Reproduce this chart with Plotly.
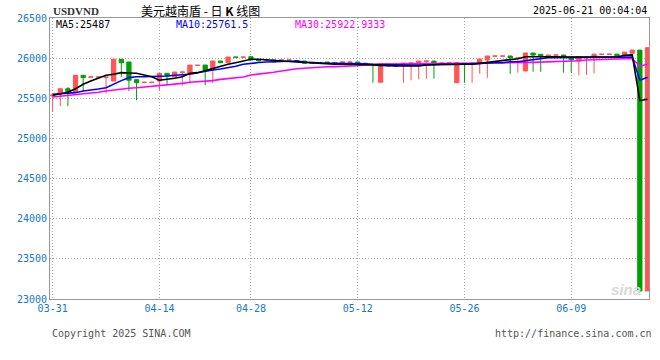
import plotly.graph_objects as go

dates = ["03-31",
 "04-01","04-02","04-03","04-04","04-05","04-06","04-07","04-08","04-09","04-10",
 "04-11","04-12","04-13","04-14","04-15","04-16","04-17","04-19","04-20","04-22",
 "04-23","04-24","04-25","04-26","04-27","04-28","04-29","04-30",
 "05-01","05-02","05-03","05-04","05-05","05-06","05-07","05-08","05-09","05-10",
 "05-11","05-12","05-13","05-14","05-15","05-16","05-17","05-18","05-19","05-20",
 "05-21","05-22","05-23","05-24","05-25","05-26","05-27","05-28","05-29","05-30",
 "05-31","06-01","06-02","06-03","06-04","06-05","06-06","06-07","06-08","06-09",
 "06-10","06-11","06-12","06-13","06-14","06-15","06-16","06-17","06-18","06-19"]

opens = [25530,25553,25619,25582,25786,25762,25762,25760,25715,25986,
         25952,25732,25696,25696,25715,25811,25765,25823,25811,25908,
         25914,25861,25964,25943,26014,26010,26018,25977,25973,25977,
         25973,25973,25970,25964,25936,25938,25952,25939,25948,25948,
         25952,25936,25923,25700,25904,25907,25931,25936,25943,25961,
         25964,25935,25936,25694,25936,25933,25930,25977,26024,26024,
         26027,25995,25840,26064,26048,26018,26036,26039,26010,25964,
         26006,26020,26046,26046,26050,26030,26060,26100,23100]
highs = [25545,25619,25641,25786,25786,25766,25766,25764,25986,25986,
         25952,25740,25700,25700,25811,25811,25827,25827,25914,25912,
         25914,25964,25964,26014,26014,26014,26018,25977,25977,25977,
         25977,25977,25970,25964,25940,25942,25952,25943,25952,25952,
         25952,25936,25923,25915,25907,25907,25936,25940,25964,25964,
         25964,25938,25940,25943,25936,25936,25989,26027,26027,26027,
         26027,26003,26064,26064,26048,26039,26039,26039,26010,26020,
         26010,26050,26050,26050,26050,26075,26100,26100,26130]
lows = [25333,25404,25404,25582,25591,25762,25762,25562,25715,25765,
        25591,25475,25696,25696,25600,25665,25765,25660,25687,25908,
        25665,25687,25943,25943,26010,26010,25977,25968,25973,25952,
        25973,25973,25964,25936,25936,25938,25936,25939,25948,25948,
        25936,25915,25694,25700,25904,25904,25694,25724,25736,25744,
        25744,25935,25936,25694,25694,25694,25806,25756,26024,26024,
        25806,25819,25840,25831,25831,26018,26036,25819,25819,25786,
        25790,25810,26046,26046,26030,26030,26060,23100,23100]
closes = [25540,25619,25582,25786,25757,25766,25766,25764,25986,25943,
          25724,25694,25700,25700,25811,25778,25827,25827,25914,25912,
          25852,25964,25943,26014,26010,26014,25977,25968,25977,25952,
          25977,25977,25964,25936,25940,25942,25936,25943,25952,25952,
          25936,25915,25915,25915,25907,25904,25936,25940,25964,25964,
          25936,25938,25940,25943,25920,25936,25989,26027,26027,26027,
          26006,26003,26064,26039,26027,26039,26039,26018,25980,26020,
          26010,26050,26050,26050,26030,26075,26100,23100,26130]

ma5 = [25537,25555,25575,25619,25674,25715,25750,25786,25800,25819,
       25815,25811,25790,25769,25724,25735,25750,25769,25811,25819,
       25845,25875,25900,25923,25943,25964,25986,25986,25977,25970,
       25964,25958,25952,25945,25943,25935,25923,25923,25923,25923,
       25923,25918,25915,25910,25902,25902,25902,25902,25902,25915,
       25923,25923,25923,25923,25923,25923,25935,25945,25956,25964,
       25977,25993,26018,26018,26027,26027,26018,26014,26014,26014,
       26014,26014,26014,26014,26014,26035,26040,25470,25487]
ma10 = [25550,25555,25560,25570,25591,25600,25615,25632,25680,25720,
        25757,25769,25769,25769,25769,25778,25786,25792,25799,25819,
        25840,25852,25865,25881,25900,25923,25936,25945,25952,25954,
        25956,25960,25964,25952,25945,25940,25936,25936,25936,25936,
        25936,25930,25923,25920,25918,25915,25915,25915,25915,25915,
        25915,25915,25915,25920,25925,25931,25931,25943,25943,25943,
        25956,25956,25970,25986,25995,26006,26006,26006,26014,26014,
        26014,26014,26014,26014,26014,26014,26014,25725,25761.5]
ma30 = [25516,25525,25535,25550,25555,25562,25575,25591,25605,25619,
        25625,25632,25640,25647,25653,25663,25674,25686,25699,25703,
        25707,25720,25736,25745,25755,25765,25790,25800,25811,25825,
        25840,25855,25868,25875,25883,25890,25892,25894,25896,25898,
        25905,25915,25923,25925,25927,25929,25931,25933,25935,25936,
        25936,25936,25936,25936,25936,25936,25936,25938,25940,25941,
        25942,25943,25945,25947,25949,25951,25953,25956,25960,25968,
        25977,25982,25986,25989,25991,25993,25995,25900,25922.9333]

tick_dates = ["03-31", "04-14", "04-28", "05-12", "05-26", "06-09"]
y_ticks = [23000, 23500, 24000, 24500, 25000, 25500, 26000, 26500]

RED = "#FF5555"
GREEN = "#00A000"
BLUE_TXT = "#1878C8"
MONO = "DejaVu Sans Mono"

fig = go.Figure()
fig.add_trace(go.Candlestick(
    x=dates, open=opens, high=highs, low=lows, close=closes,
    increasing=dict(line=dict(color=RED, width=1), fillcolor=RED),
    decreasing=dict(line=dict(color=GREEN, width=1), fillcolor=GREEN),
    whiskerwidth=0, showlegend=False, hoverinfo="skip"))
fig.add_trace(go.Scatter(x=dates, y=ma30, mode="lines",
                         line=dict(color="#FF00FF", width=1.6), showlegend=False))
fig.add_trace(go.Scatter(x=dates, y=ma10, mode="lines",
                         line=dict(color="#0000FF", width=1.6), showlegend=False))
fig.add_trace(go.Scatter(x=dates, y=ma5, mode="lines",
                         line=dict(color="#000000", width=1.6), showlegend=False))

W, H = 660, 360
L, T = 50, 18
R = W - 649
B = H - 299
pw, ph = W - L - R, H - T - B

def px(xp):
    return (xp - L) / pw

def py(yp):
    return (H - B - yp) / ph

ann = []
def text(x, y, s, color, size, family, xanchor="left"):
    ann.append(dict(x=px(x), y=py(y), xref="paper", yref="paper", text=s,
                    showarrow=False, xanchor=xanchor, yanchor="middle",
                    font=dict(color=color, size=size, family=family)))

text(51, 11, "<b>USDVND</b>", "#333333", 11, "Liberation Serif")
text(139, 10, "美元越南盾 - 日 <b>K</b> 线图", "#000000", 12, "Noto Sans CJK SC")
text(649, 11, "2025-06-21 00:04:04", "#000000", 10, MONO, "right")
text(54, 24, "MA5:25487", "#000000", 10, MONO)
text(174, 24, "MA10:25761.5", "#0000FF", 10, MONO)
text(293, 24, "MA30:25922.9333", "#FF00FF", 10, MONO)
text(50, 333, "Copyright 2025 SINA.COM", "#555555", 10, MONO)
text(654, 333, "http://finance.sina.com.cn", "#555555", 10, MONO, "right")
text(626, 289, "<i><b>sina</b></i>", "#D8D8D8", 15, "Liberation Sans", "center")

fig.update_layout(
    width=W, height=H, margin=dict(l=L, r=R, t=T, b=B, autoexpand=False),
    paper_bgcolor="white", plot_bgcolor="white",
    boxgap=0.2, annotations=ann, hovermode=False,
    xaxis=dict(type="category", range=[-0.35, 78.2], rangeslider=dict(visible=False),
               tickvals=tick_dates, ticktext=tick_dates, showgrid=True,
               gridcolor="#AAAAAA", griddash="1px,2px", gridwidth=1, automargin=False,
               showline=True, linecolor="#999999", linewidth=1, mirror=True,
               ticks="", tickfont=dict(color=BLUE_TXT, size=10, family=MONO)),
    yaxis=dict(range=[23000, 26500], tickvals=y_ticks, tickformat="d", showgrid=True,
               gridcolor="#AAAAAA", griddash="1px,2px", gridwidth=1, automargin=False,
               showline=True, linecolor="#999999", linewidth=1, mirror=True,
               ticks="", zeroline=False,
               tickfont=dict(color=BLUE_TXT, size=10, family=MONO)),
)

fig.write_html("out.html", config={"displayModeBar": False},
               post_script="document.body.style.margin='0';")
